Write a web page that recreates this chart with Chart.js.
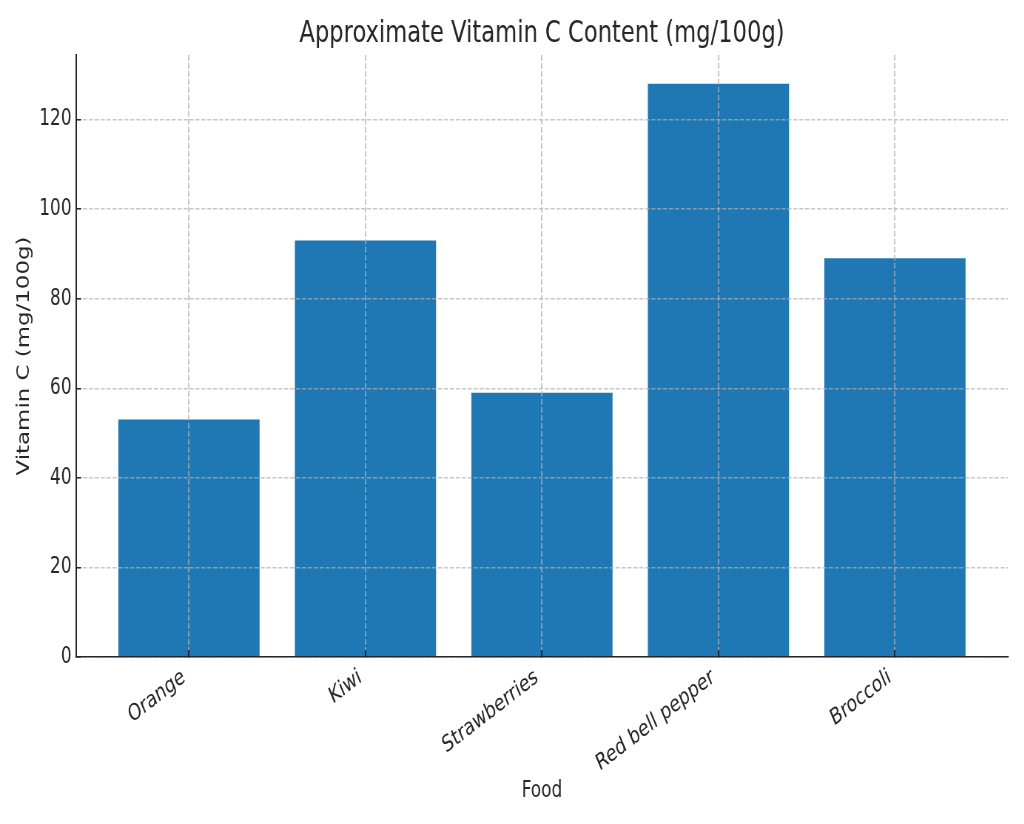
<!DOCTYPE html>
<html>
<head>
<meta charset="utf-8">
<title>Vitamin C Content</title>
<script src="https://cdn.jsdelivr.net/npm/chart.js@4.4.1/dist/chart.umd.min.js"></script>
<style>
  html, body { margin: 0; padding: 0; background: #fff; overflow: hidden; }
  #wrap { width: 1024px; height: 824px; overflow: hidden; }
  /* the reference is squeezed sideways: draw wide, then squeeze */
  #chart { transform: scaleX(0.74); transform-origin: 0 0; }
</style>
</head>
<body>
<div id="wrap"><canvas id="chart" width="1384" height="824"></canvas></div>
<script>
const foods = ['Orange', 'Kiwi', 'Strawberries', 'Red bell pepper', 'Broccoli'];
const vitaminC = [53, 93, 59, 128, 89];
const yTicks = [0, 20, 40, 60, 80, 100, 120];

const ink = '#262626';
const gridColor = 'rgba(176,176,176,0.7)';
const face = 'DejaVu Sans';
const dash = [5.6, 2.4];

const canvas = document.getElementById('chart');

new Chart(canvas, {
  type: 'bar',
  data: {
    datasets: [{
      label: 'Vitamin C',
      data: vitaminC.map((v, i) => ({x: i, y: v})),
      backgroundColor: '#1f77b4',
      borderWidth: 0,
      barPercentage: 0.8,
      categoryPercentage: 1.0
    }]
  },
  options: {
    responsive: false,
    animation: false,
    devicePixelRatio: 1,
    layout: { padding: {left: 8, right: 22, top: 5, bottom: 10} },
    plugins: {
      legend: {display: false},
      tooltip: {enabled: false},
      title: {
        display: true,
        text: 'Approximate Vitamin C Content (mg/100g)',
        fullSize: false,
        color: ink,
        font: {family: face, size: 30.6, weight: 'normal'},
        padding: {top: 11, bottom: 2.3}
      }
    },
    scales: {
      x: {
        type: 'linear',
        min: -0.64,
        max: 4.64,
        offset: false,
        afterBuildTicks: s => { s.ticks = foods.map((f, i) => ({value: i})); },
        afterFit: s => { s.height = 157; },
        ticks: {
          callback: v => foods[v],
          autoSkip: false,
          minRotation: 30,
          maxRotation: 30,
          padding: 13.7,
          labelOffset: -6.9,
          color: ink,
          font: {family: face, size: 22.9}
        },
        grid: {offset: false, color: gridColor, lineWidth: 2, tickLength: -7, tickColor: ink, tickWidth: 2, tickBorderDash: [], z: 1},
        border: {color: ink, width: 1.5, dash: dash, z: 2},
        title: {display: true, text: 'Food', color: ink, font: {family: face, size: 22.9}, padding: {top: 0, bottom: 9.3}}
      },
      y: {
        min: 0,
        max: 134.4,
        afterBuildTicks: s => { s.ticks = yTicks.map(v => ({value: v})); },
        afterFit: s => { s.width = 94.7; },
        ticks: {color: ink, font: {family: face, size: 22.9}, padding: 13},
        grid: {color: gridColor, lineWidth: 1.5, tickLength: -7, tickColor: ink, tickWidth: 1.5, tickBorderDash: [], z: 1},
        border: {color: ink, width: 2, dash: dash, z: 2},
        title: {display: true, text: 'Vitamin C (mg/100g)', color: ink, font: {family: face, size: 22.9}, padding: {top: 11, bottom: 0}}
      }
    }
  }
});
</script>
</body>
</html>
